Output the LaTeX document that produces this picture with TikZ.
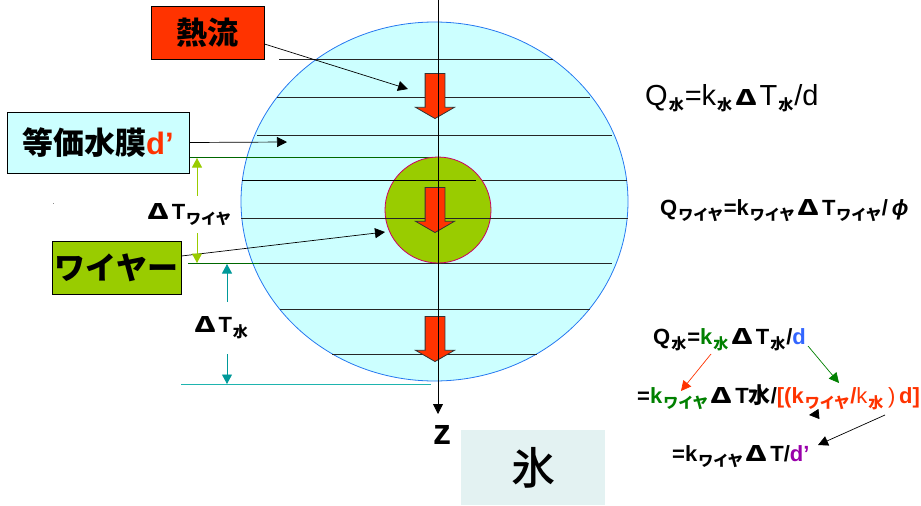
\documentclass[tikz,border=0pt]{standalone}
\usepackage{fontspec}
\setmainfont{Liberation Sans}
\newfontfamily\jpfont{Noto Sans CJK JP}
\newfontfamily\jpmedium{Noto Sans CJK JP Medium}
\usetikzlibrary{arrows.meta,shapes.arrows,shapes.geometric}
\definecolor{FlowRed}{RGB}{255,51,0}
\definecolor{IceBlue}{RGB}{204,255,255}
\definecolor{WireGreen}{RGB}{153,204,0}
\definecolor{LineBlue}{RGB}{38,120,240}
\definecolor{RimPink}{RGB}{204,0,102}
\definecolor{TealArrow}{RGB}{0,153,153}
\definecolor{TealLine}{RGB}{30,180,175}
\definecolor{DarkGreen}{RGB}{0,128,0}
\definecolor{EqBlue}{RGB}{51,102,255}
\definecolor{EqPurple}{RGB}{153,0,170}
\definecolor{IcePale}{RGB}{227,242,242}
\newcommand{\jpsub}[1]{\hspace{1pt}\raisebox{-5pt}{\fontsize{15}{15}\selectfont\bfseries\jpfont #1}\hspace{1pt}}
\newcommand{\dT}{\hspace{2pt}\resizebox{22pt}{16pt}{\bfseries\jpfont Δ}\hspace{2.5pt}T}

\begin{document}
\begin{tikzpicture}[
        x=1pt, y=-1pt,
        labelbox/.style={
            draw=black,
            line width=0.9pt,
            inner sep=0pt,
            font=\fontsize{31}{31}\selectfont\bfseries\jpfont
        },
        heatflow/.style={
            shape=single arrow,
            draw=black!80,
            fill=FlowRed,
            line width=0.8pt,
            shape border rotate=270,
            inner sep=9.5pt,
            minimum width=38pt,
            minimum height=45pt,
            single arrow head extend=9.5pt,
            single arrow tip angle=120,
            anchor=tip
        },
        thinarrow/.style={
            -{Triangle[length=10pt,width=10pt]},
            line width=0.7pt
        },
        dimarrow/.style={
            -{Triangle[length=9.5pt,width=10pt]},
            line width=0.9pt
        },
        eqlabel/.style={
            inner sep=0pt,
            font=\fontsize{22}{22}\selectfont\bfseries
        }
    ]
        \useasboundingbox (0,0) rectangle (921,506);

        \node[draw=LineBlue, fill=IceBlue, line width=0.8pt, shape=ellipse, inner sep=0pt, minimum width=387pt, minimum height=359pt] (drop) at (434.5,201.5) {};

        \foreach \yy/\xa/\xb in {59/279/553, 97/277/590, 135/257/612, 180/242/627, 218/241/628, 263/259/612, 309/280/590, 354/332/537}
            \draw[line width=0.9pt, black!85] (\xa,\yy) -- (\xb,\yy);
        \draw[line width=0.9pt, DarkGreen!80!black] (189,157.5) -- (435,157.5);
        \draw[line width=0.9pt, DarkGreen!80!black] (188,263) -- (259,263);
        \draw[line width=0.9pt, TealLine] (181,384) -- (431,384);

        \node[draw=RimPink, fill=WireGreen, line width=0.8pt, shape=circle, inner sep=0pt, minimum size=106pt] (wire) at (438,210) {};
        \draw[line width=0.9pt] (242,180) -- (476,180);
        \draw[line width=0.9pt, black!85] (241,218) -- (628,218);

        \node[heatflow] (flowa) at (435,119) {};
        \node[heatflow] (flowb) at (435,233) {};
        \node[heatflow] (flowc) at (435,362) {};

        \coordinate (ztop) at (438,0);
        \coordinate (zend) at (438,414);
        \draw[-{Triangle[length=10pt,width=10pt]}, line width=0.8pt] (ztop) -- (zend);

        \node[labelbox, fill=FlowRed, minimum width=113pt, minimum height=53pt] (flowbox) at (207.5,32.5) {\raisebox{-3pt}{熱流}};
        \node[labelbox, fill=IceBlue, minimum width=182pt, minimum height=61pt] (filmbox) at (98,142.5) {等価水膜{\color{FlowRed}\normalfont\bfseries d’}};
        \node[labelbox, fill=WireGreen, minimum width=129pt, minimum height=53pt] (wirebox) at (116.5,267.5) {\raisebox{-3pt}{ワイヤー}};
        \node[fill=IcePale, inner sep=0pt, minimum width=144pt, minimum height=75pt, font=\fontsize{44}{44}\selectfont\jpmedium] (icebox) at (533,467.5) {\raisebox{-4pt}{氷}};

        \coordinate (flowtip) at (408,89);
        \coordinate (filmtip) at (287,142);
        \coordinate (wiretip) at (385,232);
        \draw[thinarrow] (flowbox.east |- 0,44) -- (flowtip);
        \draw[thinarrow] (filmbox.east) -- (filmtip);
        \draw[thinarrow] (wirebox.east |- 0,256) -- (wiretip);

        \node[eqlabel, minimum height=37pt] (dtwire) at (188,214.5) {\dT\jpsub{ワイヤ}};
        \node[eqlabel, minimum height=52pt] (dtwater) at (220,328) {\dT\jpsub{水}};
        \coordinate (wiretop) at (197,158);
        \coordinate (wirebot) at (197,263);
        \coordinate (watertop) at (227,264);
        \coordinate (waterbot) at (227,384);
        \draw[dimarrow, WireGreen] (dtwire.north -| wiretop) -- (wiretop);
        \draw[dimarrow, WireGreen] (dtwire.south -| wirebot) -- (wirebot);
        \draw[dimarrow, TealArrow] (dtwater.north -| watertop) -- (watertop);
        \draw[dimarrow, TealArrow] (dtwater.south -| waterbot) -- (waterbot);

        \node[inner sep=0pt, font=\fontsize{36}{36}\selectfont\bfseries] (zlabel) at (442,435) {z};
        \node[fill=black!45, inner sep=0pt, minimum size=1pt] (speck) at (53,203) {};

        \node[inner sep=0pt, anchor=base west, font=\fontsize{29}{29}\selectfont] (eqwater) at (645,105) {Q\jpsub{水}=k\jpsub{水}\dT\jpsub{水}/d};
        \node[eqlabel, anchor=base west] (eqwire) at (660,215) {Q\jpsub{ワイヤ}=k\jpsub{ワイヤ}\dT\jpsub{ワイヤ}/\,\textit{ϕ}};

        \node[eqlabel, anchor=base west] (eqone) at (653,344) {Q\jpsub{水}={\color{DarkGreen}k\jpsub{水}}\dT\jpsub{水}/{\color{EqBlue}d}};
        \node[eqlabel, anchor=base west] (eqtwo) at (637,403) {={\color{DarkGreen}k\jpsub{ワイヤ}}\dT{\jpfont 水}/{\color{FlowRed}[(k\jpsub{ワイヤ}/{\mdseries k}\jpsub{水}\,{\mdseries)}\,d]}};
        \node[eqlabel, anchor=base west] (eqthree) at (672,461) {=k\jpsub{ワイヤ}\dT/{\color{EqPurple}d’}};

        \coordinate (ksrc) at (711,354);
        \coordinate (kdst) at (681,391);
        \coordinate (dsrc) at (808,346);
        \coordinate (ddst) at (839,383);
        \coordinate (rsrc) at (885,415);
        \coordinate (rdst) at (818,445);
        \coordinate (stubsrc) at (819,414);
        \coordinate (stubdst) at (809,415);
        \draw[thinarrow, FlowRed] (ksrc) -- (kdst);
        \draw[thinarrow, DarkGreen] (dsrc) -- (ddst);
        \draw[thinarrow] (rsrc) -- (rdst);
        \draw[thinarrow] (stubsrc) -- (stubdst);
    \end{tikzpicture}
\end{document}
